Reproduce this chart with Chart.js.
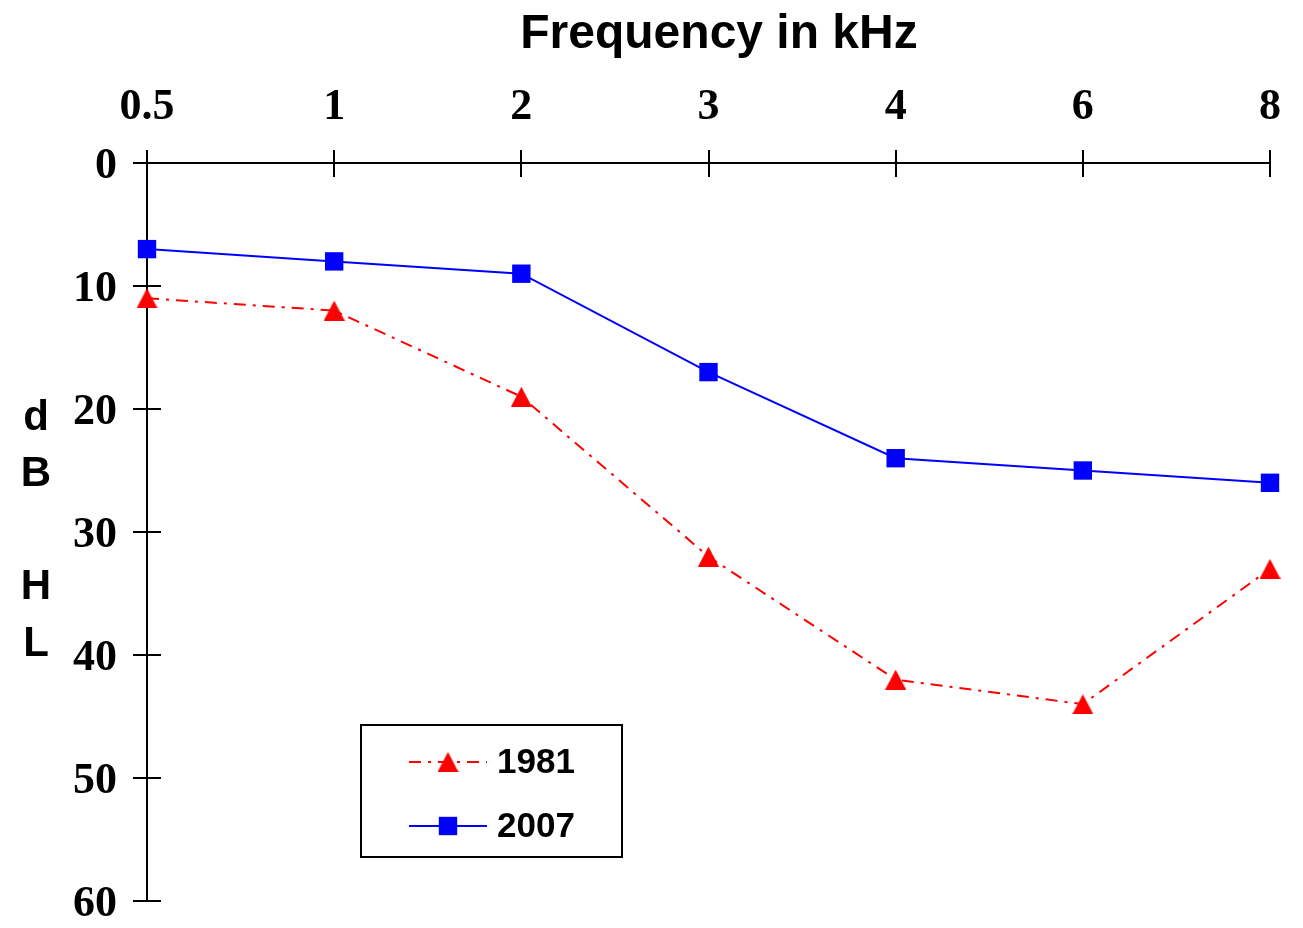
<!DOCTYPE html>
<html>
<head>
<meta charset="utf-8">
<script src="https://cdn.jsdelivr.net/npm/chart.js@4/dist/chart.umd.min.js"></script>
<style>
  html, body { margin: 0; padding: 0; background: #fff; }
  #wrap { width: 1303px; height: 928px; position: relative; }
</style>
</head>
<body>
<div id="wrap"><canvas id="c" width="1303" height="928"></canvas></div>
<script>
const frequencies = ['0.5', '1', '2', '3', '4', '6', '8'];
const hl1981 = [11, 12, 19, 32, 42, 44, 33];
const hl2007 = [7, 8, 9, 17, 24, 25, 26];
const seriesNames = ['1981', '2007'];
const xTitle = 'Frequency in kHz';
const yTitleLetters = ['d', 'B', '', 'H', 'L'];

const serif = "'Liberation Serif', 'Times New Roman', serif";
const sans = "'Liberation Sans', Arial, sans-serif";

// triangle marker centred on its bounding box
function makeTriangle(w, h, color) {
  const cv = document.createElement('canvas');
  cv.width = w; cv.height = h;
  const c = cv.getContext('2d');
  c.fillStyle = color;
  c.beginPath();
  c.moveTo(w / 2, 0);
  c.lineTo(w, h);
  c.lineTo(0, h);
  c.closePath();
  c.fill();
  return cv;
}
const redTriangle = makeTriangle(21, 20, '#ff0000');

const decorations = {
  id: 'decorations',
  afterDraw(chart) {
    const ctx = chart.ctx;
    const xs = chart.scales.x, ys = chart.scales.y;
    const area = chart.chartArea;
    ctx.save();
    // inner halves of tick marks
    ctx.strokeStyle = '#000';
    ctx.lineWidth = 2;
    ctx.beginPath();
    xs.ticks.forEach((t, i) => {
      const px = Math.round(xs.getPixelForTick(i));
      ctx.moveTo(px, area.top);
      ctx.lineTo(px, area.top + 14);
    });
    ys.ticks.forEach((t, i) => {
      const py = Math.round(ys.getPixelForTick(i));
      ctx.moveTo(area.left, py);
      ctx.lineTo(area.left + 14, py);
    });
    ctx.stroke();

    // x title
    ctx.fillStyle = '#000';
    ctx.font = 'bold 48px ' + sans;
    ctx.textAlign = 'center';
    ctx.textBaseline = 'middle';
    ctx.fillText(xTitle, 719, 35);

    // y title (stacked letters)
    ctx.font = 'bold 42px ' + sans;
    const ys0 = 418, step = 56.5;
    yTitleLetters.forEach((ch, i) => {
      if (ch) ctx.fillText(ch, 36, ys0 + i * step);
    });

    // legend box
    const lx = 361, ly = 725, lw = 261, lh = 132;
    ctx.lineWidth = 2;
    ctx.strokeStyle = '#000';
    ctx.strokeRect(lx, ly, lw, lh);
    const rows = [762, 826];
    chart.data.datasets.forEach((ds, i) => {
      const y = rows[i];
      ctx.save();
      ctx.strokeStyle = ds.borderColor;
      ctx.lineWidth = ds.borderWidth;
      ctx.setLineDash(ds.borderDash || []);
      ctx.beginPath();
      ctx.moveTo(409, y);
      ctx.lineTo(487, y);
      ctx.stroke();
      ctx.restore();
      ctx.save();
      ctx.fillStyle = ds.pointBackgroundColor;
      ctx.strokeStyle = ds.pointBorderColor;
      Chart.helpers.drawPoint(ctx, {
        pointStyle: ds.pointStyle, radius: ds.pointRadius, rotation: 0, borderWidth: 0
      }, 448, y);
      ctx.restore();
      ctx.fillStyle = '#000';
      ctx.font = 'bold 35px ' + sans;
      ctx.textAlign = 'left';
      ctx.textBaseline = 'middle';
      ctx.fillText(ds.label, 497, y + 1);
    });
    ctx.restore();
  }
};

new Chart(document.getElementById('c'), {
  type: 'line',
  data: {
    labels: frequencies,
    datasets: [
      {
        label: seriesNames[0],
        data: hl1981,
        borderColor: '#ff0000',
        backgroundColor: '#ff0000',
        borderWidth: 2,
        borderDash: [12, 7, 3, 7],
        pointStyle: redTriangle,
        pointRadius: 12,
        pointBackgroundColor: '#ff0000',
        pointBorderColor: '#ff0000',
        pointBorderWidth: 0,
        tension: 0
      },
      {
        label: seriesNames[1],
        data: hl2007,
        borderColor: '#0000ff',
        backgroundColor: '#0000ff',
        borderWidth: 2,
        pointStyle: 'rect',
        pointRadius: 13,
        pointBackgroundColor: '#0000ff',
        pointBorderColor: '#0000ff',
        pointBorderWidth: 0,
        tension: 0
      }
    ]
  },
  options: {
    responsive: false,
    animation: false,
    layout: { padding: { left: 0, right: 33, top: 0, bottom: 27 } },
    plugins: { legend: { display: false }, tooltip: { enabled: false }, title: { display: false } },
    scales: {
      x: {
        type: 'category',
        position: 'top',
        offset: false,
        afterFit(scale) { scale.height = 163; },
        grid: { drawOnChartArea: false, drawTicks: true, tickLength: 13, color: '#000', lineWidth: 2 },
        border: { color: '#000', width: 2 },
        ticks: {
          color: '#000', padding: 16, maxRotation: 0, autoSkip: false,
          font: { family: serif, size: 44, weight: 'bold' }
        }
      },
      y: {
        min: 0, max: 60, reverse: true,
        afterFit(scale) { scale.width = 147; scale.paddingTop = 0; scale.paddingBottom = 0; },
        grid: { drawOnChartArea: false, drawTicks: true, tickLength: 14, color: '#000', lineWidth: 2 },
        border: { color: '#000', width: 2 },
        ticks: {
          stepSize: 10, color: '#000', padding: 16, labelOffset: 4,
          font: { family: serif, size: 44, weight: 'bold' }
        }
      }
    }
  },
  plugins: [decorations]
});
</script>
</body>
</html>
